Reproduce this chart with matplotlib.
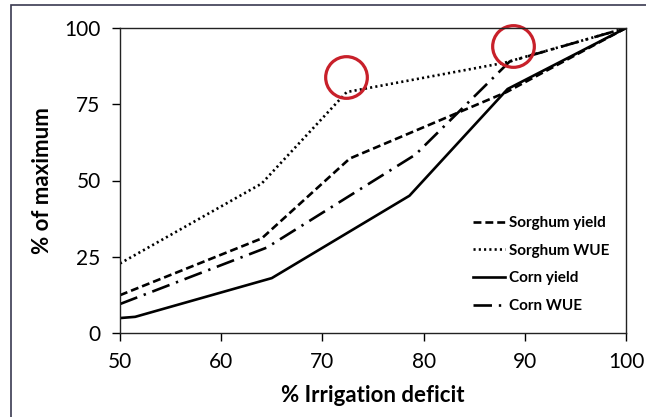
import matplotlib.pyplot as plt
from matplotlib.patches import Rectangle

# % irrigation deficit vs % of maximum
sorghum_yield_x = [50, 64, 72.7, 88.2, 100]
sorghum_yield_y = [12.4, 31, 57.2, 79, 100]

sorghum_wue_x = [50, 64, 72.4, 88, 100]
sorghum_wue_y = [22.8, 49, 79, 88.6, 100]

corn_yield_x = [50, 51.5, 65, 78.6, 88.3, 100]
corn_yield_y = [4.9, 5.3, 18, 45, 80, 100]

corn_wue_x = [50, 64.5, 79.2, 88.5, 100]
corn_wue_y = [9.5, 28, 58.5, 89, 100]

# highlighted points (red circles)
circle_x = [72.3, 88.8]
circle_y = [84, 94]

xticks = [50, 60, 70, 80, 90, 100]
yticks = [0, 25, 50, 75, 100]

plt.rcParams['font.family'] = ['Lato', 'DejaVu Sans']

fig = plt.figure(figsize=(6.46, 4.17), dpi=100)
ax = fig.add_axes([120 / 646, 1 - 333 / 417, 506 / 646, 305 / 417])

lw = 1.9
ax.plot(sorghum_yield_x, sorghum_yield_y, color='black', lw=lw,
        linestyle=(0, (3.0, 1.5)), label='Sorghum yield')
ax.plot(sorghum_wue_x, sorghum_wue_y, color='black', lw=lw,
        linestyle=(0, (0.8, 1.2)), label='Sorghum WUE')
ax.plot(corn_yield_x, corn_yield_y, color='black', lw=lw,
        linestyle='-', label='Corn yield')
ax.plot(corn_wue_x, corn_wue_y, color='black', lw=lw,
        linestyle=(0, (7.0, 2.6, 0.9, 2.6)), label='Corn WUE')

ax.plot(circle_x, circle_y, 'o', ms=30, mfc='none', mec='#c8202a',
        mew=2.3, clip_on=False)

ax.set_xlim(50, 100)
ax.set_ylim(0, 100)
ax.set_xticks(xticks)
ax.set_yticks(yticks)
ax.tick_params(direction='out', length=6, width=1, labelsize=15)
ax.tick_params(axis='x', pad=8)
ax.tick_params(axis='y', pad=8)
for s in ax.spines.values():
    s.set_linewidth(1)
    s.set_color('#222222')

ax.set_xlabel('% Irrigation deficit', fontsize=16, fontweight='bold', labelpad=9)
ax.set_ylabel('% of maximum', fontsize=16, fontweight='bold', labelpad=8)

leg = ax.legend(loc='lower right', bbox_to_anchor=(0.995, 0.02), frameon=False,
                fontsize=11, handlelength=2.1, handletextpad=0.3,
                labelspacing=0.9)
for t in leg.get_texts():
    t.set_fontweight('bold')

fig.patches.append(Rectangle((11 / 646, -0.05), 1.1, 1 - 5 / 417 + 0.05,
                             transform=fig.transFigure, fill=False,
                             edgecolor='#3a3a50', lw=1.2))

fig.savefig('out.png', dpi=100)
